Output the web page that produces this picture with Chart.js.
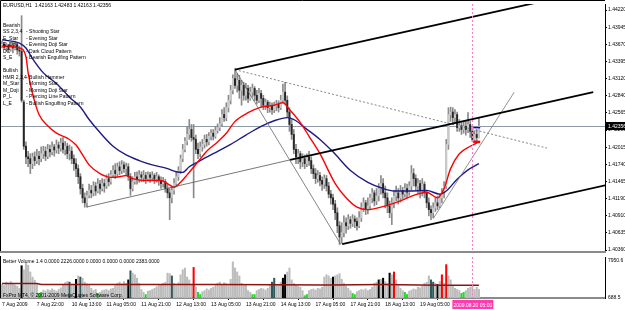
<!DOCTYPE html>
<html>
<head>
<meta charset="utf-8">
<script src="https://cdn.jsdelivr.net/npm/chart.js@4.4.1/dist/chart.umd.min.js"></script>
<style>
  body { margin: 0; background: #fff; }
  #wrap { position: relative; width: 625px; height: 310px; overflow: hidden; background: #fff; }
  #main { position: absolute; left: 0; top: 0; }
  #vol { position: absolute; left: 0; top: 256px; }
</style>
</head>
<body>
<div id="wrap">
  <canvas id="main" width="625" height="256"></canvas>
  <canvas id="vol" width="625" height="54"></canvas>
</div>
<script>
// EURUSD H1, 7 Aug 2009 06:00 .. 20 Aug 2009 08:00 (one value per bar)
const opens = [1.4364,1.4367,1.4362,1.4366,1.4359,1.4364,1.4361,1.4366,1.4358,1.4356,
1.4274,1.4203,1.4186,1.4183,1.4175,1.4186,1.4180,1.4187,1.4183,1.4191,
1.4195,1.4187,1.4198,1.4194,1.4202,1.4197,1.4205,1.4200,1.4208,1.4198,
1.4203,1.4191,1.4195,1.4183,1.4175,1.4167,1.4154,1.4135,1.4120,1.4112,
1.4124,1.4132,1.4128,1.4139,1.4131,1.4142,1.4135,1.4143,1.4139,1.4151,
1.4146,1.4157,1.4164,1.4159,1.4170,1.4164,1.4173,1.4167,1.4170,1.4154,
1.4135,1.4146,1.4154,1.4150,1.4157,1.4153,1.4156,1.4151,1.4157,1.4153,
1.4156,1.4150,1.4154,1.4148,1.4143,1.4146,1.4135,1.4128,1.4120,1.4132,
1.4143,1.4154,1.4164,1.4183,1.4198,1.4211,1.4222,1.4230,1.4217,1.4214,
1.4198,1.4191,1.4202,1.4206,1.4214,1.4210,1.4219,1.4224,1.4219,1.4228,
1.4233,1.4239,1.4254,1.4249,1.4265,1.4277,1.4293,1.4312,1.4301,1.4309,
1.4293,1.4301,1.4285,1.4296,1.4280,1.4290,1.4296,1.4285,1.4277,1.4288,
1.4280,1.4269,1.4274,1.4265,1.4269,1.4262,1.4268,1.4271,1.4265,1.4277,
1.4290,1.4277,1.4258,1.4238,1.4222,1.4198,1.4186,1.4191,1.4178,1.4183,
1.4175,1.4186,1.4180,1.4167,1.4159,1.4151,1.4156,1.4148,1.4142,1.4151,
1.4139,1.4126,1.4120,1.4110,1.4096,1.4075,1.4057,1.4064,1.4080,1.4075,
1.4085,1.4079,1.4086,1.4082,1.4075,1.4088,1.4104,1.4112,1.4101,1.4107,
1.4120,1.4128,1.4115,1.4123,1.4135,1.4143,1.4128,1.4120,1.4107,1.4096,
1.4112,1.4123,1.4128,1.4120,1.4132,1.4126,1.4135,1.4129,1.4139,1.4159,
1.4151,1.4139,1.4143,1.4132,1.4142,1.4128,1.4112,1.4101,1.4096,1.4104,
1.4112,1.4107,1.4120,1.4128,1.4139,1.4206,1.4254,1.4258,1.4249,1.4254,
1.4233,1.4236,1.4230,1.4235,1.4230,1.4238,1.4227,1.4214,1.4222,1.42163];

const highs = [1.4372,1.4370,1.4369,1.4367,1.4369,1.4370,1.4372,1.4369,1.4364,1.4413,
1.4277,1.4210,1.4195,1.4191,1.4192,1.4194,1.4198,1.4195,1.4202,1.4203,
1.4202,1.4206,1.4205,1.4210,1.4206,1.4213,1.4210,1.4216,1.4217,1.4211,
1.4208,1.4205,1.4202,1.4189,1.4183,1.4173,1.4159,1.4142,1.4128,1.4131,
1.4142,1.4140,1.4146,1.4145,1.4151,1.4148,1.4151,1.4150,1.4157,1.4159,
1.4164,1.4172,1.4175,1.4176,1.4178,1.4180,1.4178,1.4176,1.4175,1.4159,
1.4154,1.4161,1.4162,1.4164,1.4162,1.4164,1.4161,1.4162,1.4161,1.4162,
1.4159,1.4161,1.4157,1.4154,1.4153,1.4150,1.4142,1.4135,1.4139,1.4151,
1.4162,1.4170,1.4189,1.4206,1.4217,1.4235,1.4246,1.4238,1.4238,1.4221,
1.4208,1.4210,1.4214,1.4221,1.4222,1.4225,1.4230,1.4230,1.4235,1.4239,
1.4249,1.4262,1.4265,1.4273,1.4285,1.4301,1.4318,1.4328,1.4320,1.4317,
1.4309,1.4306,1.4304,1.4301,1.4298,1.4303,1.4299,1.4293,1.4296,1.4293,
1.4285,1.4279,1.4277,1.4274,1.4273,1.4274,1.4277,1.4276,1.4285,1.4303,
1.4306,1.4284,1.4265,1.4246,1.4230,1.4206,1.4198,1.4195,1.4191,1.4189,
1.4191,1.4195,1.4186,1.4173,1.4167,1.4164,1.4161,1.4154,1.4157,1.4156,
1.4145,1.4132,1.4126,1.4116,1.4104,1.4082,1.4080,1.4091,1.4088,1.4093,
1.4090,1.4093,1.4091,1.4088,1.4098,1.4112,1.4120,1.4116,1.4120,1.4126,
1.4135,1.4132,1.4135,1.4143,1.4156,1.4151,1.4139,1.4128,1.4115,1.4120,
1.4132,1.4139,1.4135,1.4140,1.4137,1.4143,1.4142,1.4146,1.4172,1.4167,
1.4157,1.4151,1.4148,1.4151,1.4146,1.4132,1.4120,1.4107,1.4112,1.4120,
1.4123,1.4126,1.4135,1.4146,1.4214,1.4265,1.4266,1.4265,1.4262,1.4258,
1.4246,1.4243,1.4243,1.4244,1.4257,1.4243,1.4233,1.4228,1.4230,1.42483];

const lows = [1.4361,1.4359,1.4356,1.4355,1.4356,1.4353,1.4358,1.4351,1.4348,1.4274,
1.4198,1.4175,1.4170,1.4159,1.4167,1.4172,1.4175,1.4173,1.4178,1.4183,
1.4180,1.4183,1.4186,1.4189,1.4187,1.4192,1.4191,1.4195,1.4192,1.4189,
1.4183,1.4181,1.4175,1.4164,1.4154,1.4143,1.4126,1.4112,1.4105,1.4105,
1.4120,1.4120,1.4123,1.4124,1.4128,1.4126,1.4131,1.4129,1.4135,1.4139,
1.4142,1.4153,1.4151,1.4154,1.4157,1.4159,1.4161,1.4157,1.4148,1.4124,
1.4131,1.4142,1.4142,1.4145,1.4146,1.4146,1.4143,1.4148,1.4145,1.4148,
1.4143,1.4145,1.4140,1.4135,1.4137,1.4129,1.4120,1.4085,1.4112,1.4126,
1.4139,1.4148,1.4159,1.4178,1.4194,1.4205,1.4214,1.4211,1.4120,1.4191,
1.4183,1.4186,1.4195,1.4200,1.4203,1.4205,1.4213,1.4213,1.4216,1.4224,
1.4228,1.4235,1.4243,1.4244,1.4258,1.4271,1.4287,1.4296,1.4290,1.4280,
1.4269,1.4277,1.4277,1.4273,1.4277,1.4282,1.4276,1.4271,1.4273,1.4266,
1.4262,1.4262,1.4257,1.4258,1.4254,1.4257,1.4260,1.4258,1.4262,1.4273,
1.4271,1.4249,1.4227,1.4214,1.4191,1.4175,1.4175,1.4167,1.4170,1.4167,
1.4170,1.4172,1.4159,1.4151,1.4143,1.4145,1.4139,1.4132,1.4135,1.4131,
1.4120,1.4110,1.4101,1.4085,1.4064,1.4045,1.4047,1.4057,1.4063,1.4069,
1.4071,1.4074,1.4072,1.4068,1.4072,1.4082,1.4098,1.4093,1.4094,1.4101,
1.4112,1.4107,1.4109,1.4115,1.4126,1.4120,1.4104,1.4096,1.4088,1.4077,
1.4104,1.4115,1.4110,1.4113,1.4118,1.4121,1.4120,1.4124,1.4132,1.4139,
1.4132,1.4128,1.4120,1.4123,1.4120,1.4104,1.4091,1.4085,1.4088,1.4098,
1.4101,1.4104,1.4112,1.4120,1.4135,1.4198,1.4243,1.4238,1.4241,1.4227,
1.4227,1.4222,1.4224,1.4221,1.4225,1.4217,1.4210,1.4210,1.4211,1.42163];

const closes = [1.4367,1.4362,1.4366,1.4359,1.4364,1.4361,1.4366,1.4358,1.4356,1.4277,
1.4203,1.4186,1.4183,1.4175,1.4186,1.4180,1.4187,1.4183,1.4191,1.4195,
1.4187,1.4198,1.4194,1.4202,1.4197,1.4205,1.4200,1.4208,1.4198,1.4203,
1.4191,1.4195,1.4183,1.4175,1.4167,1.4154,1.4135,1.4120,1.4112,1.4124,
1.4132,1.4128,1.4139,1.4131,1.4142,1.4135,1.4143,1.4139,1.4151,1.4146,
1.4157,1.4164,1.4159,1.4170,1.4164,1.4173,1.4167,1.4170,1.4154,1.4135,
1.4146,1.4154,1.4150,1.4157,1.4153,1.4156,1.4151,1.4157,1.4153,1.4156,
1.4150,1.4154,1.4148,1.4143,1.4146,1.4135,1.4128,1.4120,1.4132,1.4143,
1.4154,1.4164,1.4183,1.4198,1.4211,1.4222,1.4230,1.4217,1.4214,1.4198,
1.4191,1.4202,1.4206,1.4214,1.4210,1.4219,1.4224,1.4219,1.4228,1.4233,
1.4239,1.4254,1.4249,1.4265,1.4277,1.4293,1.4312,1.4301,1.4309,1.4293,
1.4301,1.4285,1.4296,1.4280,1.4290,1.4296,1.4285,1.4277,1.4288,1.4280,
1.4269,1.4274,1.4265,1.4269,1.4262,1.4268,1.4271,1.4265,1.4277,1.4290,
1.4277,1.4258,1.4238,1.4222,1.4198,1.4186,1.4191,1.4178,1.4183,1.4175,
1.4186,1.4180,1.4167,1.4159,1.4151,1.4156,1.4148,1.4142,1.4151,1.4139,
1.4126,1.4120,1.4110,1.4096,1.4075,1.4057,1.4064,1.4080,1.4075,1.4085,
1.4079,1.4086,1.4082,1.4075,1.4088,1.4104,1.4112,1.4101,1.4107,1.4120,
1.4128,1.4115,1.4123,1.4135,1.4143,1.4128,1.4120,1.4107,1.4096,1.4112,
1.4123,1.4128,1.4120,1.4132,1.4126,1.4135,1.4129,1.4139,1.4159,1.4151,
1.4139,1.4143,1.4132,1.4142,1.4128,1.4112,1.4101,1.4096,1.4104,1.4112,
1.4107,1.4120,1.4128,1.4139,1.4206,1.4254,1.4258,1.4249,1.4254,1.4233,
1.4236,1.4230,1.4235,1.4230,1.4238,1.4227,1.4214,1.4222,1.4217,1.42356];

// Better Volume histogram and its colour class per bar
// n = normal, g = low volume, r = climax, k = churn, t = climax + churn
const volumes = [3100,2900,3500,3300,3600,3200,3000,2800,2400,6400,
5700,6900,6500,5300,4400,3850,3100,1500,1700,2100,
1900,2200,2000,2300,2100,1900,2200,2500,3000,3400,
3600,3500,2900,3100,4000,4600,4400,4200,3500,3200,
2900,2400,2000,2200,1500,1700,2000,2100,2200,2000,
2300,2400,2900,3300,3500,3200,3600,3300,3900,5500,
5100,4800,4200,3300,2200,1700,1300,1900,2000,2200,
2400,2700,3000,3100,3300,3500,5100,5000,4600,3300,
2900,3400,4800,5700,6000,4400,3900,3100,6100,2600,
1700,1300,1800,2000,2300,2100,2400,2600,2900,3300,
3500,3100,3400,3200,2900,4000,7100,6000,5300,4600,
3300,2900,3100,2000,1700,1300,1300,2000,2200,2400,
2300,2100,2400,2900,3500,4200,2900,3100,3500,4200,
4800,5300,6000,3900,3300,3000,2800,2600,2000,1100,
1300,2000,2200,2300,2100,2400,2300,2600,4400,4800,
4600,4200,4400,4600,4800,5000,4000,3300,2800,2400,
2000,1500,1300,1800,2000,2200,2100,2300,2000,2200,
2600,3300,3500,3900,4000,4200,3600,3300,5100,4800,
5300,3900,2900,2400,2000,1700,1300,1900,2100,2300,
2200,2600,2500,2800,3300,3500,4600,3900,3500,3300,
3100,3600,4800,3300,6600,4600,3900,2800,2400,2200,
2000,1500,1700,2000,2400,2600,2900,2200,2600,2226];

const volTypes = [
  'nnnnnnnnnk','nnnnnnnggn','nnnnnnnnnn','ntnnkntnnn','nnnngnnnnn',
  'nnnnnnnnkt','nnnnnngnnn','nnnnnnnntn','nnnnnnnnrn','ggnnnnnnnn',
  'nnnnnnnnnn','nnnnnggnnn','nnnnttnnnk','knnnnnnnng','gnnnnnnnnn',
  'nnknnnnnnn','nggnnnnnnn','nnnknknnkn','rnnnnggnnn','nnnnnnnttn',
  'knrnrnnnnn','nggnnnnnnn'
].join('');

const volMaBars = [0, 16, 18, 100, 150, 175, 200, 219];
const volMa = [3260, 3260, 3080, 3080, 3000, 3080, 2950, 2950];

// moving averages (bar index, price)
const redBars = [0,8,11,12,14,17,21,25,30,34,37,40,45,50,54,57,60,67,73,76,79,82,85,90,94,99,103,107,113,119,125,129,132,137,141,146,153,158,163,168,174,178,183,189,195,200,203,206,210,215,219];
const redMa = [1.4364,1.4361,1.4347,1.4321,1.4288,1.4254,1.4236,1.4224,1.4216,1.4205,1.4189,1.4173,1.4159,1.4153,1.4154,1.4156,1.4151,1.4148,1.4148,1.4143,1.4137,1.4145,1.4157,1.4178,1.4195,1.4210,1.4224,1.4243,1.4257,1.4266,1.4269,1.4273,1.4262,1.4241,1.4219,1.4191,1.4143,1.4120,1.4105,1.4101,1.4105,1.4109,1.4115,1.4124,1.4129,1.4120,1.4135,1.4167,1.4191,1.4203,1.4210];
const blueBars = [0,8,11,14,19,25,31,36,40,45,51,57,63,69,76,80,83,86,90,97,105,112,119,125,131,135,139,146,152,160,168,175,180,187,195,201,204,209,214,219];
const blueMa = [1.4374,1.4369,1.4361,1.4344,1.4321,1.4304,1.4282,1.4266,1.4246,1.4225,1.4203,1.4189,1.4180,1.4173,1.4167,1.4162,1.4161,1.4170,1.4178,1.4191,1.4206,1.4221,1.4235,1.4244,1.4249,1.4244,1.4233,1.4214,1.4194,1.4164,1.4145,1.4135,1.4131,1.4131,1.4132,1.4126,1.4131,1.4150,1.4165,1.4175];

// trend objects: [bar index, price] end points
const upperChannel = [[107, 1.43262], [277, 1.44586]];
const middleChannel = [[132.3, 1.41811], [271.5, 1.42899]];
const lowerChannel = [[156.2, 1.40455], [277, 1.41401]];
const baseLine = [[39, 1.41054], [132.3, 1.41811]];
const dropLine = [[107, 1.43262], [155.5, 1.40455]];
const riseLine = [[198, 1.40865], [235.2, 1.42899]];
const fanLine = [[107, 1.43262], [250.3, 1.42000]];
const blueMark = [[216.4, 1.4233], [219.6, 1.4233]];
const redMark = [[216.4, 1.4210], [219.6, 1.4210]];

const priceTicks = [1.44220,1.43945,1.43670,1.43395,1.43120,1.42840,1.42565,1.42290,1.42015,1.41740,1.41465,1.41190,1.40910,1.40635,1.40360];
const tickBars = [0,16,32,48,64,80,96,112,128,144,160,176,192];
const tickLabels = ['7 Aug 2009','7 Aug 22:00','10 Aug 13:00','11 Aug 05:00','11 Aug 21:00','12 Aug 13:00','13 Aug 05:00','13 Aug 21:00','14 Aug 13:00','17 Aug 05:00','17 Aug 21:00','18 Aug 13:00','19 Aug 05:00'];
const markBar = 216;
const markLabel = '2009.08.20 05:00';
const lastPrice = 1.42356;

const headerText = 'EURUSD,H1  1.42163 1.42483 1.42163 1.42356';
const patternRows = [
  ['Bearish', ''],
  ['SS 2,3,4', '- Shooting Star'],
  ['E_Star', '- Evening Star'],
  ['E_Doji', '- Evening Doji Star'],
  ['DC', '- Dark Cloud Pattern'],
  ['S_E', '- Bearish Engulfing Pattern'],
  ['', ''],
  ['Bullish', ''],
  ['HMR 2,3,4', '- Bullish Hammer'],
  ['M_Star', '- Morning Star'],
  ['M_Doji', '- Morning Doji Star'],
  ['P_L', '- Piercing Line Pattern'],
  ['L_E', '- Bullish Engulfing Pattern']
];
const volHeader = 'Better Volume 1.4 0.0000 2226.0000 0.0000 0.0000 0.0000 2383.0000';
const copyright = 'FxPro MT4, \u00a9 2001-2009 MetaQuotes Software Corp.';

const X_MIN = -0.46, X_MAX = 276.9;
const FONT = '5px "Liberation Sans", Arial, sans-serif';
Chart.defaults.font.family = '"Liberation Sans", Arial, sans-serif';
Chart.defaults.font.size = 5;
Chart.defaults.color = '#000';

const volColors = { n: '#bcbcbc', g: '#26d826', r: '#ff0000', k: '#000000', t: '#2d5a5a' };

function pts(pairs) { return pairs.map(p => ({ x: p[0], y: p[1] })); }
function trend(pairs, color, width, dash) {
  return { type: 'line', data: pts(pairs), borderColor: color, borderWidth: width,
    borderDash: dash || [], pointRadius: 0, tension: 0, order: 1 };
}
function curve(idx, vals, color) {
  return { type: 'line', data: idx.map((x, k) => ({ x: x, y: vals[k] })), borderColor: color,
    borderWidth: 1.4, pointRadius: 0, cubicInterpolationMode: 'monotone', order: 2 };
}

function drawMarker(chart) {
  const { ctx, chartArea: a, scales: { x } } = chart;
  const vx = Math.round(x.getPixelForValue(markBar)) + 0.5;
  ctx.save();
  ctx.strokeStyle = '#ff7cc2';
  ctx.lineWidth = 1;
  ctx.setLineDash([2, 2]);
  ctx.beginPath(); ctx.moveTo(vx, a.top); ctx.lineTo(vx, a.bottom); ctx.stroke();
  ctx.restore();
}

const mainDecor = {
  id: 'mainDecor',
  beforeDatasetsDraw(chart) {
    const { ctx, chartArea: a, scales: { y } } = chart;
    const py = Math.round(y.getPixelForValue(lastPrice)) + 0.5;
    ctx.save();
    ctx.strokeStyle = '#8f9aa6';
    ctx.lineWidth = 1;
    ctx.beginPath(); ctx.moveTo(a.left, py); ctx.lineTo(a.right, py); ctx.stroke();
    ctx.restore();
  },
  afterDraw(chart) {
    const { ctx, chartArea: a, scales: { y } } = chart;
    drawMarker(chart);
    ctx.save();
    // frame and separator
    ctx.strokeStyle = '#000';
    ctx.lineWidth = 1;
    ctx.beginPath(); ctx.moveTo(0.5, a.bottom); ctx.lineTo(0.5, 0.5); ctx.lineTo(a.right, 0.5); ctx.stroke();
    ctx.fillStyle = '#8a8a8a';
    ctx.fillRect(0, a.bottom - 1, a.right + 1, 2);
    // current price tag
    const py = y.getPixelForValue(lastPrice);
    ctx.fillStyle = '#000';
    ctx.fillRect(a.right + 1, py - 4, 20, 8);
    ctx.fillStyle = '#fff';
    ctx.font = FONT;
    ctx.textBaseline = 'middle';
    ctx.fillText(lastPrice.toFixed(5), a.right + 3, py + 0.5);
    // texts
    ctx.fillStyle = '#000';
    ctx.textBaseline = 'alphabetic';
    ctx.fillText(headerText, 3, 6.5);
    patternRows.forEach((r, k) => {
      const by = 26.5 + k * 6.52;
      if (r[0]) ctx.fillText(r[0], 3, by);
      if (r[1]) ctx.fillText(r[1], 26, by);
    });
    ctx.restore();
  }
};

const volDecor = {
  id: 'volDecor',
  afterDraw(chart) {
    const { ctx, chartArea: a, scales: { x } } = chart;
    drawMarker(chart);
    ctx.save();
    ctx.strokeStyle = '#000';
    ctx.lineWidth = 1;
    ctx.beginPath(); ctx.moveTo(0.5, a.top - 1); ctx.lineTo(0.5, a.bottom); ctx.stroke();
    ctx.font = FONT;
    ctx.fillStyle = '#000';
    ctx.fillText(volHeader, 3, a.top + 6);
    ctx.fillText(copyright, 3, a.bottom - 1);
    ctx.fillText('7950.6', a.right + 3, a.top + 5);
    ctx.fillText('688.5', a.right + 3, a.bottom + 1);
    // time tag of the marker line
    const vx = x.getPixelForValue(markBar);
    ctx.fillStyle = '#ff3cb0';
    ctx.fillRect(vx - 20, a.bottom + 2, 41, 9);
    ctx.fillStyle = '#fff';
    ctx.fillText(markLabel, vx - 19, a.bottom + 8.5);
    ctx.restore();
  }
};

const barIdx = closes.map((c, i) => i);

new Chart(document.getElementById('main'), {
  type: 'bar',
  data: {
    datasets: [
      { type: 'bar', data: barIdx.map(i => ({ x: i, y: [lows[i], highs[i]] })),
        backgroundColor: '#8a8a8a', barThickness: 1, grouped: false, order: 6 },
      { type: 'bar', data: barIdx.map(i => ({ x: i, y: [opens[i], closes[i]] })),
        backgroundColor: c => closes[c.dataIndex] >= opens[c.dataIndex] ? '#cacaca' : '#262626',
        barThickness: 1.3, minBarLength: 1, grouped: false, order: 5 },
      curve(redBars, redMa, '#ff0000'),
      curve(blueBars, blueMa, '#1c1c86'),
      trend(upperChannel, '#000', 1.8),
      trend(middleChannel, '#000', 1.8),
      trend(lowerChannel, '#000', 1.8),
      trend(baseLine, '#555', 0.8),
      trend(dropLine, '#666', 0.8),
      trend(riseLine, '#777', 0.8),
      trend(fanLine, '#666', 0.8, [2, 2]),
      trend(blueMark, '#0000ff', 1.5),
      trend(redMark, '#ff0000', 2.5)
    ]
  },
  options: {
    responsive: false,
    animation: false,
    events: [],
    layout: { padding: { left: 1, top: 2, right: 0, bottom: 1 } },
    plugins: { legend: { display: false }, tooltip: { enabled: false } },
    scales: {
      x: { type: 'linear', min: X_MIN, max: X_MAX, offset: false, display: false },
      y: {
        position: 'right', min: 1.40329, max: 1.44318,
        afterBuildTicks: s => { s.ticks = priceTicks.map(v => ({ value: v })); },
        afterFit: s => { s.width = 20; },
        ticks: { padding: 1, callback: v => v.toFixed(5), font: { size: 5 } },
        grid: { drawOnChartArea: false, tickLength: 2, color: '#000' },
        border: { color: '#000' }
      }
    }
  },
  plugins: [mainDecor]
});

new Chart(document.getElementById('vol'), {
  type: 'bar',
  data: {
    datasets: [
      { type: 'bar', data: barIdx.map(i => ({ x: i, y: volumes[i] })),
        backgroundColor: c => volColors[volTypes[c.dataIndex]], barThickness: 1.4, grouped: false, order: 2 },
      { type: 'line', data: volMaBars.map((x, k) => ({ x: x, y: volMa[k] })),
        borderColor: '#8e1414', borderWidth: 1.5, pointRadius: 0, tension: 0, order: 1 }
    ]
  },
  options: {
    responsive: false,
    animation: false,
    events: [],
    layout: { padding: { left: 1, top: 1, right: 0, bottom: 0 } },
    plugins: { legend: { display: false }, tooltip: { enabled: false } },
    scales: {
      x: {
        type: 'linear', min: X_MIN, max: X_MAX, offset: false,
        afterBuildTicks: s => { s.ticks = tickBars.map(v => ({ value: v })); },
        afterFit: s => { s.height = 12; },
        ticks: { autoSkip: false, maxRotation: 0, align: 'start', padding: 2, font: { size: 5 },
          callback: v => tickLabels[tickBars.indexOf(v)] },
        grid: { drawOnChartArea: false, tickLength: 2, color: '#000' },
        border: { color: '#8a8a8a', width: 2 }
      },
      y: {
        position: 'right', min: 688.5, max: 7950.6,
        afterFit: s => { s.width = 20; },
        ticks: { display: false },
        grid: { drawOnChartArea: false, tickLength: 0 },
        border: { color: '#000' }
      }
    }
  },
  plugins: [volDecor]
});
</script>
</body>
</html>
